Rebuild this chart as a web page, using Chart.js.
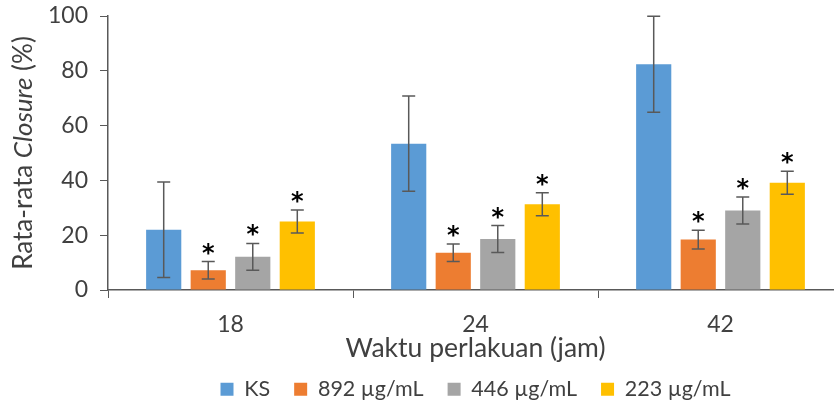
<!DOCTYPE html>
<html>
<head>
<meta charset="utf-8">
<script src="https://cdn.jsdelivr.net/npm/chart.js@4.4.0/dist/chart.umd.min.js"></script>
<style>
  body { margin: 0; overflow: hidden; background: #fff; }
  #wrap { width: 846px; height: 410px; }
</style>
</head>
<body>
<div id="wrap"><canvas id="canvas"></canvas></div>
<script>
var categories = ['18', '24', '42'];

var ks = [22.0, 53.4, 82.4];
var ksErr = [17.4, 17.4, 17.5];
var c892 = [7.2, 13.6, 18.4];
var c892Err = [3.2, 3.2, 3.4];
var c446 = [12.1, 18.6, 29.0];
var c446Err = [4.9, 4.9, 4.9];
var c223 = [25.0, 31.3, 39.1];
var c223Err = [4.2, 4.2, 4.2];

var yTicks = [0, 20, 40, 60, 80, 100];

var textColor = '#404040';
var axisColor = '#595959';
var fontFam = 'Lato, "Open Sans", sans-serif';

// error bars + asterisks
var errorBars = {
    id: 'errorBars',
    afterDatasetsDraw: function(chart) {
        var ctx = chart.ctx;
        var y = chart.scales.y;
        ctx.save();
        chart.data.datasets.forEach(function(ds, i) {
            var meta = chart.getDatasetMeta(i);
            meta.data.forEach(function(bar, j) {
                var v = ds.data[j], e = ds.err[j];
                var top = y.getPixelForValue(v + e);
                var bot = y.getPixelForValue(v - e);
                ctx.strokeStyle = axisColor;
                ctx.lineWidth = 1.5;
                ctx.beginPath();
                ctx.moveTo(bar.x, top); ctx.lineTo(bar.x, bot);
                ctx.moveTo(bar.x - 6.5, top); ctx.lineTo(bar.x + 6.5, top);
                ctx.moveTo(bar.x - 6.5, bot); ctx.lineTo(bar.x + 6.5, bot);
                ctx.stroke();
                if (ds.star) {
                    ctx.fillStyle = '#000';
                    ctx.font = 'bold 24px "DejaVu Sans", sans-serif';
                    ctx.textAlign = 'center';
                    ctx.textBaseline = 'alphabetic';
                    ctx.fillText('*', bar.x, top - 1);
                }
            });
        });
        ctx.restore();
    }
};

// y axis title with italic word
var yTitle = {
    id: 'yTitle',
    afterDraw: function(chart) {
        var ctx = chart.ctx;
        var a = chart.chartArea;
        var parts = [['Rata-rata ', ''], ['Closure', 'italic '], [' (%)', '']];
        ctx.save();
        ctx.translate(24, (a.top + a.bottom) / 2);
        ctx.rotate(-Math.PI / 2);
        ctx.fillStyle = textColor;
        ctx.textBaseline = 'middle';
        ctx.textAlign = 'left';
        var total = 0;
        parts.forEach(function(p) {
            ctx.font = p[1] + '26px ' + fontFam;
            total += ctx.measureText(p[0]).width;
        });
        var x = -total / 2;
        parts.forEach(function(p) {
            ctx.font = p[1] + '26px ' + fontFam;
            ctx.fillText(p[0], x, 0);
            x += ctx.measureText(p[0]).width;
        });
        ctx.restore();
    }
};

var config = {
    type: 'bar',
    data: {
        labels: categories,
        datasets: [{
            label: 'KS',
            data: ks,
            err: ksErr,
            star: false,
            backgroundColor: '#5B9BD5'
        }, {
            label: '892 µg/mL',
            data: c892,
            err: c892Err,
            star: true,
            backgroundColor: '#ED7D31'
        }, {
            label: '446 µg/mL',
            data: c446,
            err: c446Err,
            star: true,
            backgroundColor: '#A5A5A5'
        }, {
            label: '223 µg/mL',
            data: c223,
            err: c223Err,
            star: true,
            backgroundColor: '#FFC000'
        }]
    },
    options: {
        responsive: true,
        maintainAspectRatio: false,
        animation: false,
        categoryPercentage: 0.727,
        barPercentage: 0.79,
        layout: {
            padding: { top: 16, right: 3, left: 0, bottom: 0 }
        },
        plugins: {
            legend: {
                position: 'bottom',
                fullSize: false,
                labels: {
                    boxWidth: 13,
                    boxHeight: 13,
                    padding: 24,
                    color: textColor,
                    font: { family: fontFam, size: 21.5 }
                }
            },
            tooltip: { enabled: false }
        },
        scales: {
            x: {
                grid: {
                    drawOnChartArea: false,
                    tickLength: 8,
                    color: axisColor
                },
                border: { color: axisColor, width: 1.5 },
                ticks: {
                    color: textColor,
                    padding: 13,
                    font: { family: fontFam, size: 23 }
                },
                title: {
                    display: true,
                    text: 'Waktu perlakuan (jam)',
                    color: textColor,
                    padding: { top: 0, bottom: -10 },
                    font: { family: fontFam, size: 26.5 }
                },
                afterFit: function(scale) { scale.height = 64.5; }
            },
            y: {
                min: 0,
                max: 100,
                afterBuildTicks: function(scale) {
                    scale.ticks = yTicks.map(function(v) { return { value: v }; });
                },
                grid: {
                    drawOnChartArea: false,
                    tickLength: 8,
                    color: axisColor
                },
                border: { color: axisColor, width: 1.5 },
                ticks: {
                    color: textColor,
                    padding: 12,
                    font: { family: fontFam, size: 23 }
                },
                afterFit: function(scale) {
                    scale.width = 108;
                    scale.paddingTop = 0;
                    scale.paddingBottom = 0;
                }
            }
        }
    },
    plugins: [errorBars, yTitle]
};

window.onload = function() {
    var ctx = document.getElementById('canvas').getContext('2d');
    window.myBar = new Chart(ctx, config);
};
</script>
</body>
</html>
